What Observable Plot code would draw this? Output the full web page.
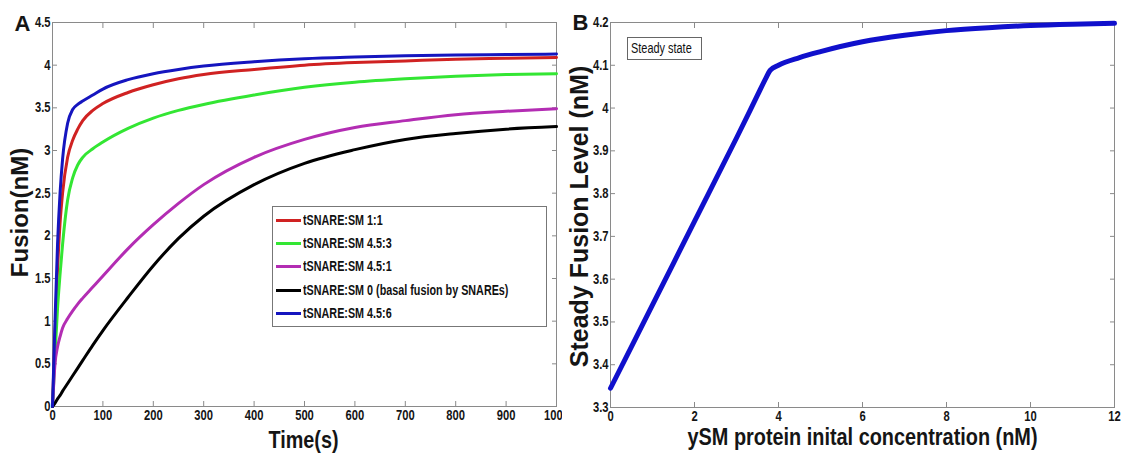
<!DOCTYPE html>
<html><head><meta charset="utf-8">
<script src="https://cdn.jsdelivr.net/npm/d3@7"></script>
<script src="https://cdn.jsdelivr.net/npm/@observablehq/plot@0.6"></script>
<style>
body{margin:0;background:#fff;font-family:"Liberation Sans",Arial,sans-serif;}
#wrap{position:relative;width:1126px;height:455px;overflow:hidden;background:#fff;}
#a{position:absolute;left:0;top:0;}
#b{position:absolute;left:562px;top:0;}
#legend{position:absolute;left:272px;top:206px;width:275px;height:121px;border:1px solid #777;background:#fff;box-sizing:border-box;}
.row{position:absolute;left:3px;height:20px;display:flex;align-items:center;}
.sw{width:25px;height:3px;margin-right:2px;}
.lt{font-size:14px;font-weight:bold;color:#111;white-space:nowrap;transform:scaleX(0.77);transform-origin:left center;}
#steady{position:absolute;left:627px;top:37px;width:75px;height:23px;border:1px solid #666;box-sizing:border-box;background:#fff;font-size:14px;color:#111;}
#steady span{position:absolute;left:3px;top:2px;white-space:nowrap;transform:scaleX(0.78);transform-origin:left center;}
</style>
</head><body>
<div id="wrap"><div id="a"></div><div id="b"></div><div id="legend"></div><div id="steady"><span>Steady state</span></div></div>
<script>
// ---- Panel A data ----
const timeS = [0,5,10,15,20,30,40,50,60,80,100,150,200,250,300,400,500,600,700,800,900,1000];
const seriesNames = ["tSNARE:SM 1:1","tSNARE:SM 4.5:3","tSNARE:SM 4.5:1","tSNARE:SM 0 (basal fusion by SNAREs)","tSNARE:SM 4.5:6"];
const seriesColors = ["#d02222","#33e633","#b32db3","#000000","#1515bf"];
const fusion_1_1  = [0,0.85,1.6,2.15,2.5,2.92,3.12,3.25,3.35,3.47,3.55,3.68,3.77,3.84,3.89,3.95,4.0,4.03,4.05,4.07,4.08,4.09];
const fusion_45_3 = [0,0.6,1.15,1.55,1.9,2.42,2.68,2.83,2.92,3.02,3.1,3.26,3.38,3.47,3.54,3.65,3.74,3.8,3.84,3.87,3.89,3.9];
const fusion_45_1 = [0,0.5,0.7,0.82,0.92,1.03,1.12,1.2,1.27,1.4,1.53,1.85,2.13,2.38,2.6,2.92,3.13,3.27,3.35,3.42,3.46,3.49];
const fusion_0    = [0,0.04,0.09,0.13,0.18,0.27,0.36,0.45,0.54,0.72,0.89,1.28,1.65,1.97,2.23,2.6,2.85,3.01,3.13,3.2,3.25,3.28];
const fusion_45_6 = [0,1.0,1.9,2.5,2.9,3.32,3.48,3.54,3.58,3.65,3.72,3.83,3.9,3.95,3.99,4.04,4.075,4.095,4.11,4.12,4.125,4.13];
const seriesValues = [fusion_1_1, fusion_45_3, fusion_45_1, fusion_0, fusion_45_6];
const xTicksA = [0,100,200,300,400,500,600,700,800,900,1000];
const yTicksA = [0,0.5,1,1.5,2,2.5,3,3.5,4,4.5];

// ---- Panel B data ----
const ySM = [0,1,2,3,3.5,3.7,3.8,4,4.5,5,6,7,8,9,10,11,12];
const steadyFusion = [3.345,3.54,3.735,3.93,4.03,4.07,4.088,4.1,4.118,4.132,4.155,4.17,4.181,4.188,4.193,4.196,4.198];
const xTicksB = [0,2,4,6,8,10,12];
const yTicksB = [3.3,3.4,3.5,3.6,3.7,3.8,3.9,4.0,4.1,4.2];

const font = '"Liberation Sans", Arial, sans-serif';
const axisStroke = "#8a8a8a";
const txt = "#151515";

const rowsA = seriesNames.flatMap((name,i) => timeS.map((t,j) => ({name, t, v: seriesValues[i][j]})));
const rowsB = ySM.map((x,i) => ({x, v: steadyFusion[i]}));

function axes(xt, yt, fmtX, fmtY) {
  return [
    Plot.frame({stroke: axisStroke}),
    Plot.axisX({ticks: xt, anchor:"bottom", tickSize:-5, tickPadding:9, tickFormat: fmtX, label:null, stroke: axisStroke, fill: txt}),
    Plot.axisX({ticks: xt, anchor:"top", tickSize:-5, tickFormat: () => "", label:null, stroke: axisStroke}),
    Plot.axisY({ticks: yt, anchor:"left", tickSize:-5, tickPadding:7, tickFormat: fmtY, label:null, stroke: axisStroke, fill: txt}),
    Plot.axisY({ticks: yt, anchor:"right", tickSize:-5, tickFormat: () => "", label:null, stroke: axisStroke})
  ];
}

const plotA = Plot.plot({
  width: 563, height: 455,
  marginLeft: 52, marginRight: 7, marginTop: 22, marginBottom: 49,
  x: {domain: [0, 1000]},
  y: {domain: [0, 4.5]},
  color: {domain: seriesNames, range: seriesColors},
  style: {fontFamily: font, fontSize: "14px", fontWeight: "bold", background: "white", color: txt},
  marks: [
    ...axes(xTicksA, yTicksA, d => String(d), d => String(d)),
    Plot.line(rowsA, {x: "t", y: "v", z: "name", stroke: "name", strokeWidth: 3, curve: "monotone-x"}),
    Plot.text(["Fusion(nM)"], {frameAnchor: "left", textAnchor: "middle", dx: -32, dy: -2, rotate: -90, fontSize: 24, fontWeight: "bold", fill: txt, lineAnchor: "middle"}),
    Plot.text(["Time(s)"], {frameAnchor: "bottom", textAnchor: "middle", dy: 34, dx: -1, fontSize: 24, fontWeight: "bold", fill: txt, lineAnchor: "middle"}),
    Plot.text(["A"], {frameAnchor: "top-left", dx: -38, dy: 1.5, textAnchor: "start", lineAnchor: "middle", fontSize: 22, fontWeight: "bold", fill: txt})
  ]
});
document.getElementById("a").appendChild(plotA);

const plotB = Plot.plot({
  width: 564, height: 455,
  marginLeft: 48, marginRight: 12, marginTop: 22, marginBottom: 48,
  x: {domain: [0, 12]},
  y: {domain: [3.3, 4.2]},
  style: {fontFamily: font, fontSize: "14px", fontWeight: "bold", background: "white", color: txt},
  marks: [
    ...axes(xTicksB, yTicksB, d => String(d), d => String(+d.toFixed(1))),
    Plot.line(rowsB, {x: "x", y: "v", stroke: "#1010cc", strokeWidth: 5, curve: "monotone-x"}),
    Plot.text(["Steady Fusion Level (nM)"], {frameAnchor: "left", textAnchor: "middle", dx: -31, dy: 1.5, rotate: -90, fontSize: 25, fontWeight: "bold", fill: txt, lineAnchor: "middle"}),
    Plot.text(["ySM protein inital concentration (nM)"], {frameAnchor: "bottom", textAnchor: "middle", dy: 30, fontSize: 23, fontWeight: "bold", fill: txt, lineAnchor: "middle"}),
    Plot.text(["B"], {frameAnchor: "top-left", dx: -38, dy: 0.5, textAnchor: "start", lineAnchor: "middle", fontSize: 22, fontWeight: "bold", fill: txt})
  ]
});
document.getElementById("b").appendChild(plotB);

// condensed (narrow) lettering like the original figure, for horizontal texts
const labelLengths = {"Time(s)": 70, "ySM protein inital concentration (nM)": 350};
const skip = new Set(["A", "B", "Fusion(nM)", "Steady Fusion Level (nM)"]);
document.querySelectorAll("#wrap svg text").forEach(t => {
  const s = t.textContent;
  if (!s || skip.has(s)) return;
  const L = t.getComputedTextLength();
  const target = labelLengths[s] != null ? labelLengths[s] : L * 0.8;
  t.setAttribute("textLength", target);
  t.setAttribute("lengthAdjust", "spacingAndGlyphs");
});

// legend
const legend = document.getElementById("legend");
const rowTops = [3, 26, 49, 73, 96];
seriesNames.forEach((name, i) => {
  const r = document.createElement("div");
  r.className = "row";
  r.style.top = rowTops[i] + "px";
  r.innerHTML = `<div class="sw" style="background:${seriesColors[i]}"></div><span class="lt">${name}</span>`;
  legend.appendChild(r);
});
</script>
</body></html>
